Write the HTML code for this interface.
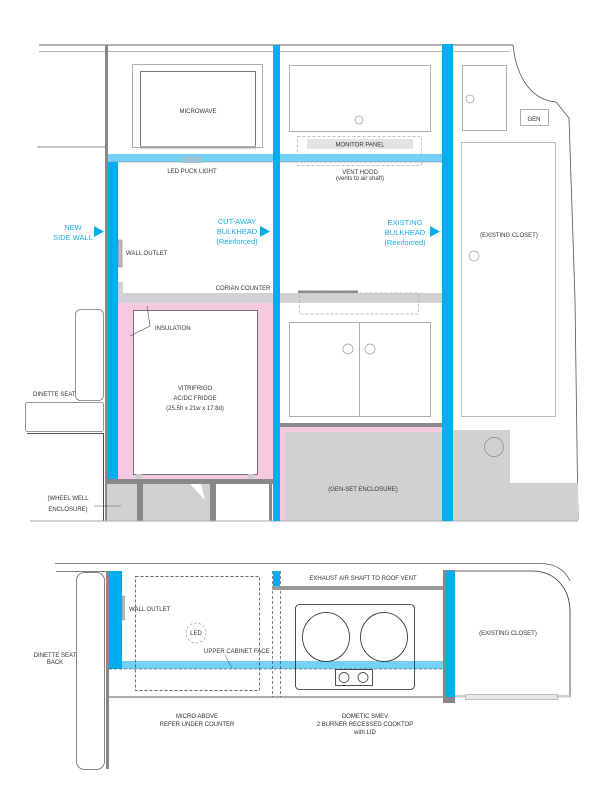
<!DOCTYPE html>
<html><head><meta charset="utf-8">
<style>
html,body{margin:0;padding:0;background:#fff;}
svg{display:block;}
text{font-family:"Liberation Sans",sans-serif;font-size:6px;fill:#333;}
.b{fill:#1aa9e6;font-size:7.5px;}
</style></head><body>
<svg width="612" height="792" viewBox="0 0 612 792" xmlns="http://www.w3.org/2000/svg">
<!-- ===== TOP SECTION ===== -->
<!-- outer lines -->
<line x1="39" y1="45" x2="513" y2="45" stroke="#666" stroke-width="1"/>
<line x1="39" y1="51.5" x2="510" y2="51.5" stroke="#999" stroke-width="0.7"/>
<path d="M513 45 C516 75 530 100 556 102 L569 118 L575 300 L578 520" fill="none" stroke="#555" stroke-width="0.8"/>
<line x1="37" y1="147" x2="107" y2="147" stroke="#666" stroke-width="0.7"/>
<!-- left gray wall -->
<rect x="105" y="45" width="3" height="476" fill="#888"/>
<!-- microwave -->
<rect x="132.5" y="64.5" width="130" height="83" fill="none" stroke="#999" stroke-width="0.8"/>
<rect x="140.5" y="71.5" width="115" height="76" fill="none" stroke="#555" stroke-width="0.8"/>
<rect x="140" y="146" width="116" height="2.5" fill="#aaa"/>
<text x="198" y="113" text-anchor="middle" font-size="7">MICROWAVE</text>
<!-- middle upper cabinet -->
<rect x="289.5" y="65.5" width="141" height="66" fill="none" stroke="#999" stroke-width="0.8"/>
<circle cx="359" cy="120" r="4" fill="none" stroke="#999" stroke-width="0.7"/>
<!-- monitor panel -->
<rect x="297.5" y="136.5" width="124" height="29" fill="none" stroke="#aaa" stroke-width="0.7" stroke-dasharray="3,2"/>
<rect x="307" y="139" width="106" height="10" fill="#e3e3e5"/>
<text x="360" y="146.5" text-anchor="middle" font-size="5.5">MONITOR PANEL</text>
<!-- right upper -->
<rect x="462.5" y="65.5" width="44" height="65" fill="none" stroke="#999" stroke-width="0.8"/>
<circle cx="470" cy="99" r="4" fill="none" stroke="#999" stroke-width="0.7"/>
<rect x="520.5" y="109.5" width="28" height="16" fill="none" stroke="#999" stroke-width="0.8"/>
<text x="534" y="121" text-anchor="middle" font-size="7">GEN</text>
<rect x="461.5" y="142.5" width="94" height="274" fill="none" stroke="#aaa" stroke-width="0.8"/>
<circle cx="474" cy="256" r="5" fill="none" stroke="#999" stroke-width="0.7"/>
<text x="509" y="237" text-anchor="middle" font-size="5.5">(EXISTING CLOSET)</text>
<!-- light blue band -->
<rect x="108" y="154" width="337" height="8" fill="#74d0f4"/>
<line x1="108" y1="162" x2="445" y2="162" stroke="#888" stroke-width="0.6"/>
<rect x="182" y="157" width="20" height="6" fill="#9fc3d3"/>
<text x="192" y="173" text-anchor="middle" font-size="5.5">LED PUCK LIGHT</text>
<text x="360" y="174" text-anchor="middle" font-size="5">VENT HOOD</text>
<text x="360" y="180" text-anchor="middle" font-size="4.8">(vents to air shaft)</text>
<!-- corian counter -->
<rect x="118" y="282" width="5" height="12" fill="#d0d1d3"/>
<rect x="108" y="293" width="335" height="10" fill="#d0d1d3"/>
<rect x="299" y="291" width="60" height="0" fill="none"/>
<rect x="298" y="290.5" width="60" height="2.5" fill="#888"/>
<rect x="299.5" y="293" width="119" height="21" fill="none" stroke="#aaa" stroke-width="0.7" stroke-dasharray="3,2"/>
<rect x="443" y="293" width="0" height="0"/>
<text x="243" y="290" text-anchor="middle" font-size="5.5">CORIAN COUNTER</text>
<!-- wall outlet -->
<rect x="118" y="240" width="4" height="27" fill="#bbb" stroke="#777" stroke-width="0.5"/>
<text x="126" y="255" font-size="5.5">WALL OUTLET</text>
<!-- pink insulation -->
<rect x="117" y="303" width="156" height="176" fill="#f7c9df"/>
<rect x="133.5" y="310.5" width="124" height="164" fill="#fff" stroke="#555" stroke-width="0.8"/>
<rect x="136" y="474" width="6" height="5" fill="#ccc"/>
<rect x="248" y="474" width="6" height="5" fill="#ccc"/>
<text x="195" y="390" text-anchor="middle" font-size="7">VITRIFRIGO</text>
<text x="195" y="400" text-anchor="middle" font-size="7">AC/DC FRIDGE</text>
<text x="195" y="410" text-anchor="middle" font-size="6.5">(25.5h x 21w x 17.8d)</text>
<path d="M147 306 L150 326 L130 336" fill="none" stroke="#444" stroke-width="0.6"/>
<text x="155" y="330" font-size="5">INSULATION</text>
<!-- wheel well -->
<rect x="107" y="479" width="166" height="5" fill="#888"/>
<rect x="107" y="484" width="165" height="37" fill="#d0d1d3"/>
<rect x="137" y="484" width="6" height="37" fill="#888"/>
<rect x="210" y="484" width="6" height="37" fill="#888"/>
<rect x="216" y="484" width="53" height="37" fill="#fff"/>
<polygon points="190,484 201,484 205,500" fill="#fff"/>
<rect x="269" y="484" width="3" height="37" fill="#888"/>
<text x="68" y="500" text-anchor="middle" font-size="6.5">(WHEEL WELL</text>
<text x="68" y="511" text-anchor="middle" font-size="6.5">ENCLOSURE)</text>
<line x1="94" y1="506" x2="121" y2="506" stroke="#555" stroke-width="0.6"/>
<!-- dinette seat -->
<rect x="75.5" y="309.5" width="28" height="91" rx="5" fill="none" stroke="#777" stroke-width="0.8"/>
<rect x="25.5" y="402.5" width="78" height="29" rx="2" fill="none" stroke="#777" stroke-width="0.8"/>
<path d="M27 433.5 L103.5 433.5 L103.5 521" fill="none" stroke="#222" stroke-width="0.8"/>
<text x="33" y="396" font-size="5.5">DINETTE SEAT</text>
<!-- middle lower cabinet -->
<rect x="289.5" y="322.5" width="141" height="94" fill="none" stroke="#999" stroke-width="0.8"/>
<line x1="359.5" y1="323" x2="359.5" y2="416" stroke="#999" stroke-width="0.8"/>
<circle cx="348" cy="349" r="5" fill="none" stroke="#999" stroke-width="0.7"/>
<circle cx="370" cy="349" r="5" fill="none" stroke="#999" stroke-width="0.7"/>
<!-- gen-set -->
<rect x="279" y="423" width="164" height="4" fill="#888"/>
<rect x="279" y="427" width="164" height="5" fill="#f7c9df"/>
<rect x="279" y="427" width="6" height="94" fill="#f7c9df"/>
<rect x="285" y="432" width="158" height="89" fill="#d0d1d3"/>
<text x="363" y="491" text-anchor="middle" font-size="6.5">(GEN-SET ENCLOSURE)</text>
<!-- right gray -->
<path d="M452 430 L510 430 L510 483 L578 483 L578 521 L452 521 Z" fill="#d0d1d3"/>
<circle cx="494" cy="447" r="9.5" fill="none" stroke="#888" stroke-width="0.7"/>
<line x1="30" y1="521" x2="578" y2="521" stroke="#aaa" stroke-width="1"/>
<!-- blue walls -->
<rect x="108" y="162" width="10" height="317" fill="#00adef"/>
<rect x="273" y="45" width="7" height="476" fill="#00adef"/>
<rect x="442" y="44" width="11" height="477" fill="#00adef"/>
<!-- blue labels -->
<text class="b" x="73" y="230" text-anchor="middle">NEW</text>
<text class="b" x="73" y="240" text-anchor="middle">SIDE WALL</text>
<polygon points="94,226 104,231.5 94,237" fill="#00adef"/>
<text class="b" x="237" y="224" text-anchor="middle">CUT-AWAY</text>
<text class="b" x="237" y="234" text-anchor="middle">BULKHEAD</text>
<text class="b" x="237" y="244" text-anchor="middle">(Reinforced)</text>
<polygon points="260,226 270,231.5 260,237" fill="#00adef"/>
<text class="b" x="405" y="225" text-anchor="middle">EXISTING</text>
<text class="b" x="405" y="235" text-anchor="middle">BULKHEAD</text>
<text class="b" x="405" y="245" text-anchor="middle">(Reinforced)</text>
<polygon points="430,226 440,231.5 430,237" fill="#00adef"/>

<!-- ===== BOTTOM SECTION ===== -->
<path d="M55 563.5 L540 563.5 C555 563.5 565 570 570 581" fill="none" stroke="#555" stroke-width="0.8"/>
<line x1="56" y1="571.5" x2="107" y2="571.5" stroke="#555" stroke-width="0.8"/>
<rect x="76.5" y="572.5" width="28" height="197" rx="8" fill="none" stroke="#666" stroke-width="0.8"/>
<rect x="106" y="571" width="3" height="198" fill="#888"/>
<text x="55" y="657" text-anchor="middle" font-size="5.5">DINETTE SEAT</text>
<text x="55" y="664" text-anchor="middle" font-size="5.5">BACK</text>
<rect x="109" y="661" width="336" height="8" fill="#74d0f4"/>
<rect x="109" y="571" width="13" height="98" fill="#00adef"/>
<line x1="109" y1="669" x2="445" y2="669" stroke="#333" stroke-width="0.6" stroke-dasharray="3,2"/>
<rect x="122" y="596" width="2.5" height="24" fill="#bbb" stroke="#777" stroke-width="0.4"/>
<text x="129" y="611" font-size="5.5">WALL OUTLET</text>
<rect x="135.5" y="576.5" width="124" height="114" fill="none" stroke="#333" stroke-width="0.7" stroke-dasharray="3,2"/>
<circle cx="196" cy="633" r="10" fill="none" stroke="#999" stroke-width="0.7" stroke-dasharray="2.5,2"/>
<text x="196" y="635" text-anchor="middle" font-size="4.5" fill="#999">LED</text>
<text x="204" y="653" font-size="5.5">UPPER CABINET FACE</text>
<line x1="225" y1="655" x2="232" y2="668" stroke="#444" stroke-width="0.5"/>
<line x1="109" y1="697" x2="445" y2="697" stroke="#222" stroke-width="0.8"/>
<line x1="272.5" y1="571" x2="272.5" y2="697" stroke="#333" stroke-width="0.6" stroke-dasharray="3,2"/>
<line x1="280.5" y1="571" x2="280.5" y2="697" stroke="#333" stroke-width="0.6" stroke-dasharray="3,2"/>
<rect x="273" y="571" width="7" height="16" fill="#00adef"/>
<rect x="272" y="586" width="173" height="4" fill="#999"/>
<text x="363" y="580" text-anchor="middle" font-size="5.5">EXHAUST AIR SHAFT TO ROOF VENT</text>
<rect x="295.5" y="604.5" width="119" height="85" rx="4" fill="none" stroke="#222" stroke-width="0.8"/>
<ellipse cx="326" cy="637" rx="23.5" ry="24.5" fill="none" stroke="#222" stroke-width="0.8"/>
<ellipse cx="384" cy="637" rx="23.5" ry="24.5" fill="none" stroke="#222" stroke-width="0.8"/>
<rect x="335.5" y="669.5" width="37" height="16" fill="none" stroke="#222" stroke-width="0.8"/>
<circle cx="344" cy="677.5" r="5" fill="none" stroke="#222" stroke-width="0.7"/>
<circle cx="363" cy="677.5" r="5" fill="none" stroke="#222" stroke-width="0.7"/>
<text x="197" y="718" text-anchor="middle" font-size="5.5">MICRO ABOVE</text>
<text x="197" y="726" text-anchor="middle" font-size="5.5">REFER UNDER COUNTER</text>
<text x="365" y="718" text-anchor="middle" font-size="5.5">DOMETIC SMEV</text>
<text x="365" y="726" text-anchor="middle" font-size="5.5">2 BURNER  RECESSED COOKTOP</text>
<text x="365" y="734" text-anchor="middle" font-size="5.5">with LID</text>
<!-- closet -->
<rect x="443" y="570" width="12" height="133" fill="#888"/>
<rect x="446" y="571" width="9" height="126" fill="#00adef"/>
<path d="M455 571 L532 571 C555 571 570 588 570 612 L570 697 L455 697" fill="none" stroke="#333" stroke-width="0.8"/>
<rect x="455" y="695" width="115" height="2.5" fill="#ccc"/>
<rect x="465.5" y="694.5" width="92" height="5" fill="#e8e8e8" stroke="#999" stroke-width="0.6"/>
<text x="508" y="635" text-anchor="middle" font-size="5.5">(EXISTING CLOSET)</text>
</svg>
</body></html>
